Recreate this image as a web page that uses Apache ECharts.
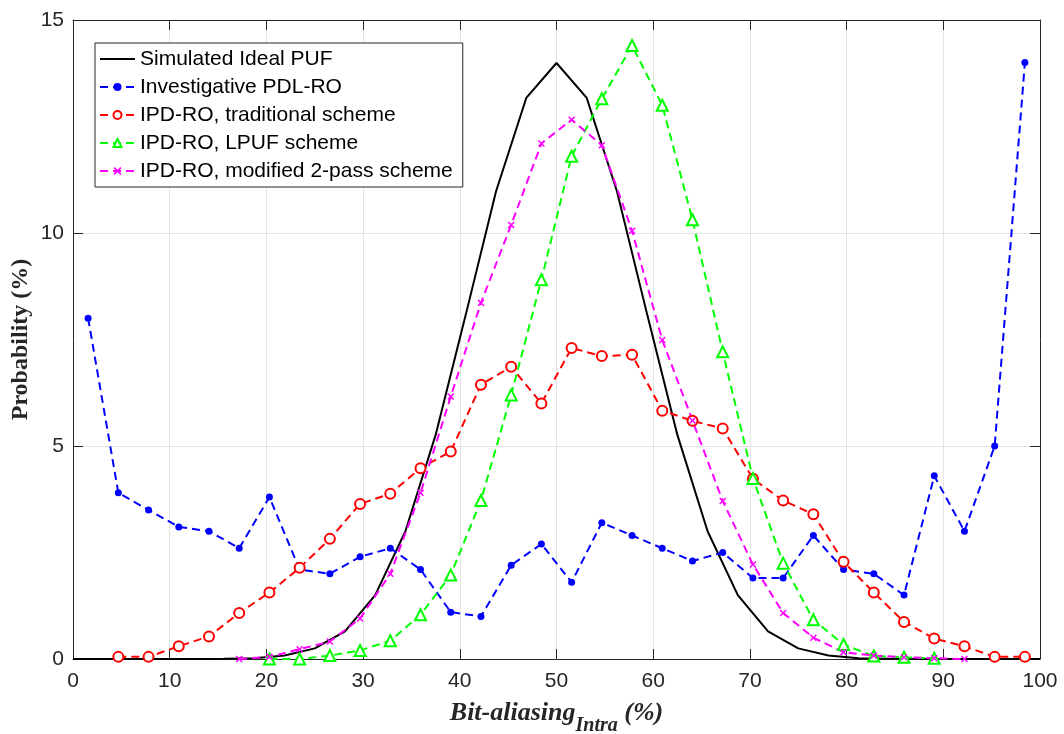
<!DOCTYPE html>
<html>
<head>
<meta charset="utf-8">
<script src="https://cdn.jsdelivr.net/npm/echarts@6/dist/echarts.min.js"></script>
<style>
  html, body { margin: 0; padding: 0; background: #fff; }
  #chart { width: 1064px; height: 734px; }
</style>
</head>
<body>
<div id="chart"></div>
<script>
// Bin centres of the measured bit-aliasing histograms (%)
const binCentres = [1.5625, 4.6875, 7.8125, 10.9375, 14.0625, 17.1875, 20.3125, 23.4375,
  26.5625, 29.6875, 32.8125, 35.9375, 39.0625, 42.1875, 45.3125, 48.4375,
  51.5625, 54.6875, 57.8125, 60.9375, 64.0625, 67.1875, 70.3125, 73.4375,
  76.5625, 79.6875, 82.8125, 85.9375, 89.0625, 92.1875, 95.3125, 98.4375];

// Positions of the simulated ideal distribution (%)
const idealX = [0, 3.125, 6.25, 9.375, 12.5, 15.625, 18.75, 21.875, 25, 28.125, 31.25,
  34.375, 37.5, 40.625, 43.75, 46.875, 50, 53.125, 56.25, 59.375, 62.5, 65.625,
  68.75, 71.875, 75, 78.125, 81.25, 84.375, 87.5, 90.625, 93.75, 96.875, 100];

// Probability (%) per bin
const idealPUF = [0, 0, 0, 0, 0, 0.005, 0.02, 0.08, 0.25, 0.65, 1.5, 3.0, 5.26, 8.09, 10.98, 13.17,
  13.99, 13.17, 10.98, 8.09, 5.26, 3.0, 1.5, 0.65, 0.25, 0.08, 0.02, 0.005, 0, 0, 0, 0, 0];

const pdlRO = [8.0, 3.9, 3.5, 3.1, 3.0, 2.6, 3.8, 2.1, 2.0, 2.4, 2.6, 2.1, 1.1, 1.0, 2.2, 2.7,
  1.8, 3.2, 2.9, 2.6, 2.3, 2.5, 1.9, 1.9, 2.9, 2.1, 2.0, 1.5, 4.3, 3.0, 5.0, 14.0];

const ipdTraditional = [null, 0.05, 0.05, 0.3, 0.53, 1.08, 1.56, 2.14, 2.82, 3.64, 3.88, 4.48,
  4.87, 6.44, 6.86, 6.0, 7.3, 7.11, 7.14, 5.83, 5.59, 5.41, 4.23, 3.72, 3.4, 2.28,
  1.56, 0.87, 0.48, 0.3, 0.05, 0.05];

const ipdLPUF = [null, null, null, null, null, null, 0.0, 0.0, 0.08, 0.2, 0.43, 1.04, 1.97, 3.72,
  6.2, 8.9, 11.8, 13.15, 14.4, 13.0, 10.31, 7.21, 4.24, 2.25, 0.92, 0.34, 0.07, 0.04,
  0.02, null, null, null];

const ipdTwoPass = [null, null, null, null, null, 0.0, 0.05, 0.23, 0.41, 0.95, 2.0, 3.9, 6.16,
  8.36, 10.19, 12.1, 12.66, 12.06, 10.05, 7.49, 5.6, 3.71, 2.22, 1.08, 0.5, 0.16,
  0.08, 0.04, 0.02, 0.0, null, null];

const seriesNames = ['Simulated Ideal PUF', 'Investigative PDL-RO', 'IPD-RO, traditional scheme',
  'IPD-RO, LPUF scheme', 'IPD-RO, modified 2-pass scheme'];

const axisColor = '#262626';
const sans = 'Liberation Sans, Arial, sans-serif';
const serif = 'Liberation Serif, Times New Roman, serif';
const dash = [8, 5];
const crossPath = 'path://M0,1.5L1.5,0L5,3.5L8.5,0L10,1.5L6.5,5L10,8.5L8.5,10L5,6.5L1.5,10L0,8.5L3.5,5Z';

const pairs = (xs, ys) => xs.map((x, i) => [x, ys[i]]);

function measured(name, values, color, symbol, size, empty) {
  return {
    name: name,
    type: 'line',
    data: pairs(binCentres, values),
    symbol: symbol,
    symbolSize: size,
    showSymbol: true,
    connectNulls: false,
    lineStyle: { color: color, width: 2, type: dash },
    itemStyle: empty
      ? { color: color, borderColor: color, borderWidth: 2 }
      : { color: color, borderColor: color, borderWidth: 0 },
    emphasis: { disabled: true },
    animation: false
  };
}

const chart = echarts.init(document.getElementById('chart'), null, { renderer: 'canvas' });

const baseX = {
  type: 'value', min: 0, max: 100, interval: 10,
  axisLine: { show: true, onZero: false, lineStyle: { color: axisColor, width: 1 } },
  axisTick: { show: true, inside: true, length: 10, lineStyle: { color: axisColor, width: 1 } }
};
const baseY = {
  type: 'value', min: 0, max: 15, interval: 5,
  axisLine: { show: true, onZero: false, lineStyle: { color: axisColor, width: 1 } },
  axisTick: { show: true, inside: true, length: 10, lineStyle: { color: axisColor, width: 1 } }
};

chart.setOption({
  backgroundColor: '#fff',
  animation: false,
  grid: { left: 73, top: 20, width: 967, height: 639, containLabel: false, outerBoundsMode: 'none' },
  legend: {
    orient: 'vertical',
    left: 95,
    top: 43,
    padding: [4, 10, 4, 4],
    itemGap: 4,
    itemWidth: 35,
    itemHeight: 10,
    backgroundColor: '#fff',
    borderColor: axisColor,
    borderWidth: 1,
    borderRadius: 0,
    selectedMode: false,
    textStyle: { fontFamily: sans, fontSize: 21, color: '#000', lineHeight: 24 },
    data: [
      { name: seriesNames[0], itemStyle: { opacity: 0 } },
      { name: seriesNames[1] },
      { name: seriesNames[2] },
      { name: seriesNames[3] },
      { name: seriesNames[4] }
    ]
  },
  xAxis: [
    Object.assign({}, baseX, {
      position: 'bottom',
      axisLabel: { show: true, margin: 12, fontFamily: sans, fontSize: 21, color: axisColor },
      splitLine: { show: true, lineStyle: { color: '#e3e3e3', width: 1 } },
      name: '{a|Bit-aliasing}{b|Intra}{a| (%)}',
      nameLocation: 'middle',
      nameGap: 41,
      nameTextStyle: {
        fontFamily: serif, fontWeight: 'bold', fontStyle: 'italic', color: axisColor,
        rich: {
          a: { fontFamily: serif, fontWeight: 'bold', fontStyle: 'italic', fontSize: 26,
               color: axisColor, lineHeight: 28, verticalAlign: 'top' },
          b: { fontFamily: serif, fontWeight: 'bold', fontStyle: 'italic', fontSize: 20,
               color: axisColor, lineHeight: 22, verticalAlign: 'top', padding: [16, 0, 0, 0] }
        }
      }
    }),
    Object.assign({}, baseX, {
      position: 'top',
      axisLabel: { show: false },
      splitLine: { show: false }
    })
  ],
  yAxis: [
    Object.assign({}, baseY, {
      position: 'left',
      axisLabel: { show: true, margin: 9, fontFamily: sans, fontSize: 21, color: axisColor },
      splitLine: { show: true, lineStyle: { color: '#e3e3e3', width: 1 } },
      name: 'Probability (%)',
      nameLocation: 'middle',
      nameMoveOverlap: false,
      nameGap: 40,
      nameTextStyle: { fontFamily: serif, fontWeight: 'bold', fontSize: 24, color: axisColor }
    }),
    Object.assign({}, baseY, {
      position: 'right',
      axisLabel: { show: false },
      splitLine: { show: false }
    })
  ],
  series: [
    {
      name: seriesNames[0],
      type: 'line',
      data: pairs(idealX, idealPUF),
      symbol: 'none',
      lineStyle: { color: '#000', width: 2 },
      itemStyle: { color: '#000' },
      emphasis: { disabled: true },
      animation: false
    },
    measured(seriesNames[1], pdlRO, '#0000ff', 'circle', 7, false),
    measured(seriesNames[2], ipdTraditional, '#ff0000', 'emptyCircle', 10, true),
    measured(seriesNames[3], ipdLPUF, '#00ff00', 'emptyTriangle', 11, true),
    measured(seriesNames[4], ipdTwoPass, '#ff00ff', crossPath, 7, false)
  ]
});
</script>
</body>
</html>
